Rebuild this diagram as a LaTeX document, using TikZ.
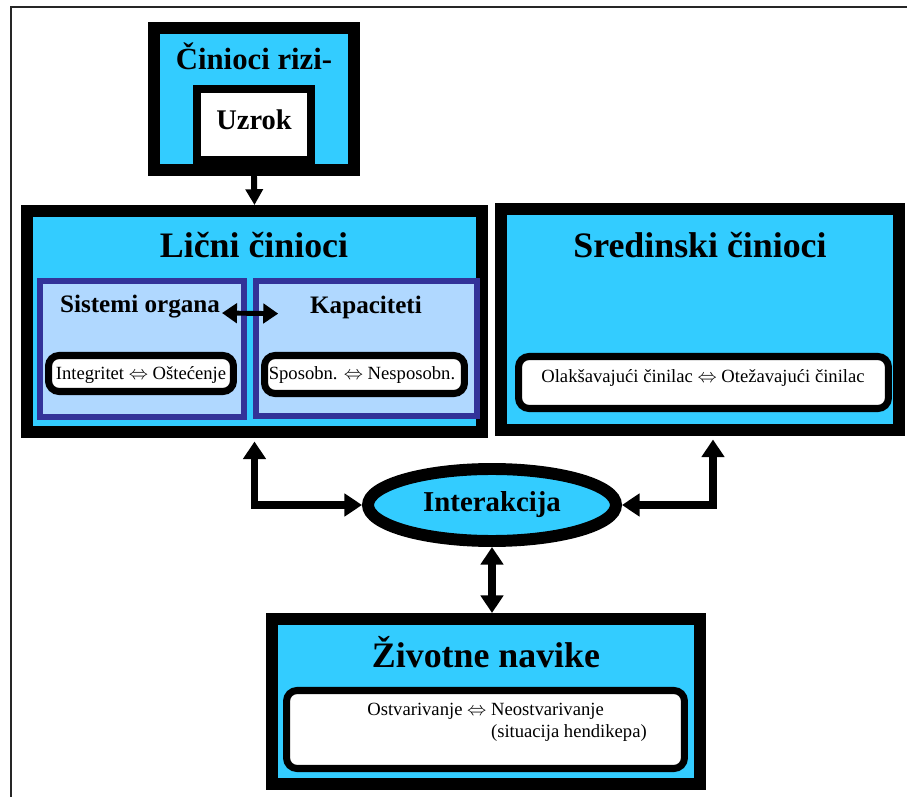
\documentclass[tikz,border=0pt]{standalone}
\usepackage{fontspec}
\setmainfont{Liberation Serif}
\usetikzlibrary{arrows.meta,shapes.geometric}
\definecolor{skyfill}{HTML}{33CCFF}
\definecolor{palefill}{HTML}{B0D8FF}
\definecolor{navyline}{HTML}{333399}

\begin{document}
\begin{tikzpicture}[x=0.02cm,y=-0.02cm,
  big box/.style={draw=black,fill=skyfill,line width=6.8pt,inner sep=0pt},
  cause box/.style={draw=black,fill=white,line width=4.5pt,inner sep=0pt},
  sub box/.style={draw=navyline,fill=palefill,line width=3.4pt,inner sep=0pt},
  white box/.style={draw=black,fill=white,line width=4pt,rounded corners=6pt,inner sep=0pt},
  head/.style={font=\bfseries\fontsize{#1}{#1}\selectfont,anchor=base,inner sep=0pt},
  small text/.style={font=\fontsize{10.6}{12.5}\selectfont,anchor=base,inner sep=0pt},
  link/.style={line width=4.5pt,{Triangle[width=12.5pt,length=10pt]}-{Triangle[width=12.5pt,length=10pt]}}]

\useasboundingbox (0,0) rectangle (907,797);
\draw[line width=1.1pt,black!85] (11,797) -- (11,7) -- (907,7);

% boxes
\node[big box,minimum width=4cm,minimum height=2.84cm](rizik) at (254,99) {};
\node[cause box,minimum width=2.28cm,minimum height=1.42cm](uzrok) at (254,124.5) {};
\node[big box,minimum width=9.1cm,minimum height=4.42cm](licni) at (254.5,321.5) {};
\node[big box,minimum width=7.96cm,minimum height=4.42cm](sred) at (700,319.5) {};
\node[sub box,minimum width=4.08cm,minimum height=2.72cm](sist) at (142,349) {};
\node[sub box,minimum width=4.42cm,minimum height=2.7cm](kap) at (366.5,348.5) {};
\node[white box,minimum width=3.7cm,minimum height=0.72cm](integ) at (141,373.5) {};
\node[white box,minimum width=4cm,minimum height=0.76cm](sposob) at (364.5,374.5) {};
\node[white box,minimum width=7.4cm,minimum height=1.04cm](olak) at (703.5,382.5) {};
\node[ellipse,draw=black,fill=skyfill,line width=6.8pt,inner sep=0pt,
  minimum width=4.96cm,minimum height=1.44cm](inter) at (492,505) {};
\node[big box,minimum width=8.56cm,minimum height=3.3cm](ziv) at (486,701.5) {};
\node[white box,minimum width=7.96cm,minimum height=1.56cm](ostv) at (485.5,729.5) {};

% texts
\node[head=17.5](rizikT) at (254,70) {Činioci rizi-};
\node[head=16.2](uzrokT) at (254,130) {Uzrok};
\node[head=20.4](licniT) at (254,258) {Lični činioci};
\node[head=20.4](sredT) at (700,258) {Sredinski činioci};
\node[head=14.3](sistT) at (140,313) {Sistemi organa};
\node[head=14.3](kapT) at (366,314) {Kapaciteti};
\node[small text](integT) at (141,380) {Integritet $\Leftrightarrow$ Oštećenje};
\node[small text](sposobT) at (362,380) {Sposobn. $\Leftrightarrow$ Nesposobn.};
\node[small text](olakT) at (703,383) {Olakšavajući činilac $\Leftrightarrow$ Otežavajući činilac};
\node[head=16.4](interT) at (492,512) {Interakcija};
\node[head=20.4](zivT) at (486,667) {Životne navike};
\node[small text,anchor=base west](ostvA) at (367,715) {Ostvarivanje $\Leftrightarrow$ Neostvarivanje};
\node[small text,anchor=base west](ostvB) at (367,737) {\phantom{Ostvarivanje $\Leftrightarrow$ }(situacija hendikepa)};

% connectors
\draw[line width=3.4pt,-{Triangle[width=9.6pt,length=9pt]}] (rizik.south) -- (licni.north);
\draw[line width=2.8pt,{Triangle[width=11pt,length=8.5pt]}-{Triangle[width=11pt,length=8.5pt]},
  shorten <=1pt,shorten >=18pt] (sistT.base east) -- (kapT.base west);
\draw[link,shorten >=2pt] (inter.west) -| (licni.south);
\draw[link,shorten >=2pt] (inter.east) -| ([xshift=0.26cm]sred.south);
\draw[link] (inter.south) -- (inter.south |- ziv.north);
\end{tikzpicture}
\end{document}
